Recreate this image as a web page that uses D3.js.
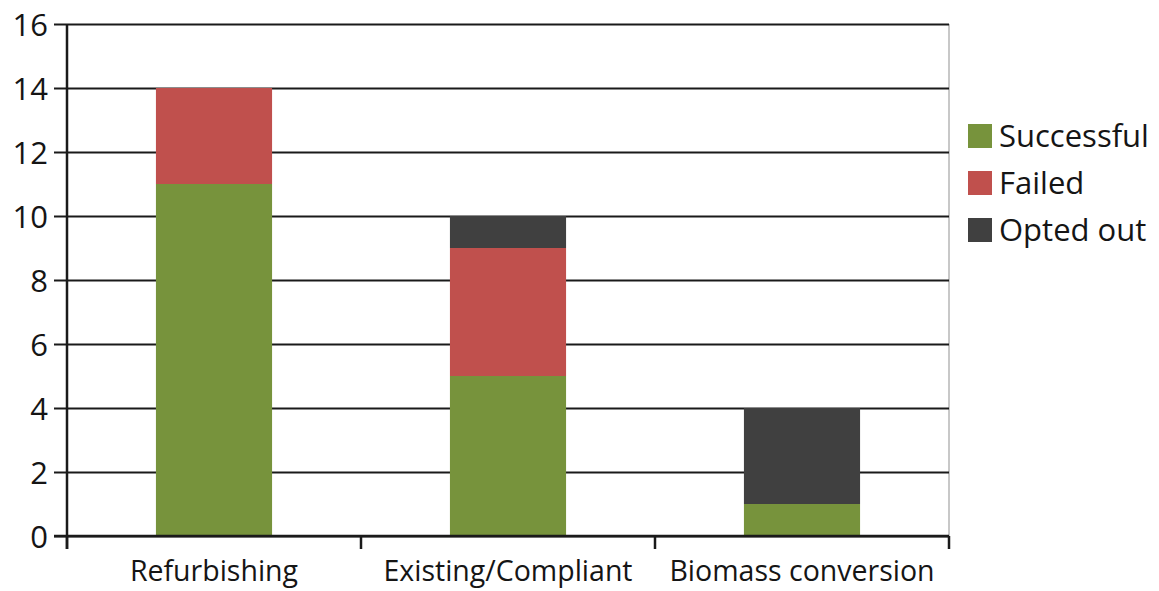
<!DOCTYPE html>
<html>
<head>
<meta charset="utf-8">
<script src="https://cdn.jsdelivr.net/npm/d3@7"></script>
<style>
  html, body { margin: 0; padding: 0; background: #fff; }
  svg { display: block; }
  text { font-family: "Open Sans", "Noto Sans", sans-serif; fill: #151515; }
</style>
</head>
<body>
<svg id="chart" width="1159" height="591"></svg>
<script>
// Outcomes per project type
const categories = ["Refurbishing", "Existing/Compliant", "Biomass conversion"];
const seriesNames = ["Successful", "Failed", "Opted out"];
const successful = [11, 5, 1];
const failed = [3, 4, 0];
const optedOut = [0, 1, 3];
const yTicks = [0, 2, 4, 6, 8, 10, 12, 14, 16];
const colors = ["#77933C", "#C0504D", "#404040"];

const rows = categories.map((c, i) => ({
  category: c,
  "Successful": successful[i],
  "Failed": failed[i],
  "Opted out": optedOut[i]
}));

const svg = d3.select("#chart");
const plotLeft = 67, plotRight = 949, plotTop = 24, plotBottom = 536;

const x = d3.scaleBand().domain(categories).range([plotLeft, plotRight]).paddingInner(0.605).paddingOuter(0.3025);
const y = d3.scaleLinear().domain([0, 16]).range([plotBottom, plotTop]);
const color = d3.scaleOrdinal().domain(seriesNames).range(colors);

// right frame edge
svg.append("line")
  .attr("x1", plotRight).attr("x2", plotRight).attr("y1", plotTop).attr("y2", plotBottom)
  .attr("stroke", "#c8c8c8").attr("stroke-width", 2);

// horizontal gridlines with left tick marks and labels
const gy = svg.append("g").attr("transform", `translate(${plotLeft - 13},0)`);
gy.call(d3.axisLeft(y).tickValues(yTicks).tickSize(0).tickFormat(""));
gy.select(".domain").remove();
gy.selectAll(".tick").append("line")
  .attr("x1", 0).attr("x2", plotRight - plotLeft + 13)
  .attr("stroke", "#1a1a1a").attr("stroke-width", 2);
gy.selectAll(".tick").append("text")
  .attr("x", -6).attr("dy", "0.36em")
  .attr("text-anchor", "end")
  .style("font-size", "31px")
  .text(d => d);

// stacked bars
const stacked = d3.stack().keys(seriesNames)(rows);
svg.append("g").selectAll("g").data(stacked).join("g")
  .attr("fill", d => color(d.key))
  .selectAll("rect").data(d => d).join("rect")
  .attr("x", d => x(d.data.category))
  .attr("width", x.bandwidth())
  .attr("y", d => y(d[1]))
  .attr("height", d => y(d[0]) - y(d[1]));

// y axis line
svg.append("line")
  .attr("x1", plotLeft).attr("x2", plotLeft).attr("y1", plotTop).attr("y2", plotBottom + 13)
  .attr("stroke", "#1a1a1a").attr("stroke-width", 2.5);

// x axis: category boundary ticks and labels
const xBounds = [plotLeft].concat(categories.map((c, i) => plotLeft + (i + 1) * (plotRight - plotLeft) / categories.length));
svg.append("g").selectAll("line").data(xBounds).join("line")
  .attr("x1", d => d).attr("x2", d => d).attr("y1", plotBottom).attr("y2", plotBottom + 13)
  .attr("stroke", "#1a1a1a").attr("stroke-width", 2.5);
svg.append("line")
  .attr("x1", plotLeft - 13).attr("x2", plotRight).attr("y1", plotBottom).attr("y2", plotBottom)
  .attr("stroke", "#1a1a1a").attr("stroke-width", 2.5);
svg.append("g").selectAll("text").data(categories).join("text")
  .attr("x", d => x(d) + x.bandwidth() / 2)
  .attr("y", 581)
  .attr("text-anchor", "middle")
  .style("font-size", "28.5px")
  .text(d => d);

// legend
const legend = svg.append("g").attr("transform", "translate(968,124)");
const item = legend.selectAll("g").data(seriesNames).join("g")
  .attr("transform", (d, i) => `translate(0,${i * 47})`);
item.append("rect").attr("width", 24).attr("height", 24).attr("fill", d => color(d));
item.append("text")
  .attr("x", 31).attr("y", 12).attr("dy", "0.36em")
  .style("font-size", "31px")
  .text(d => d);
</script>
</body>
</html>
